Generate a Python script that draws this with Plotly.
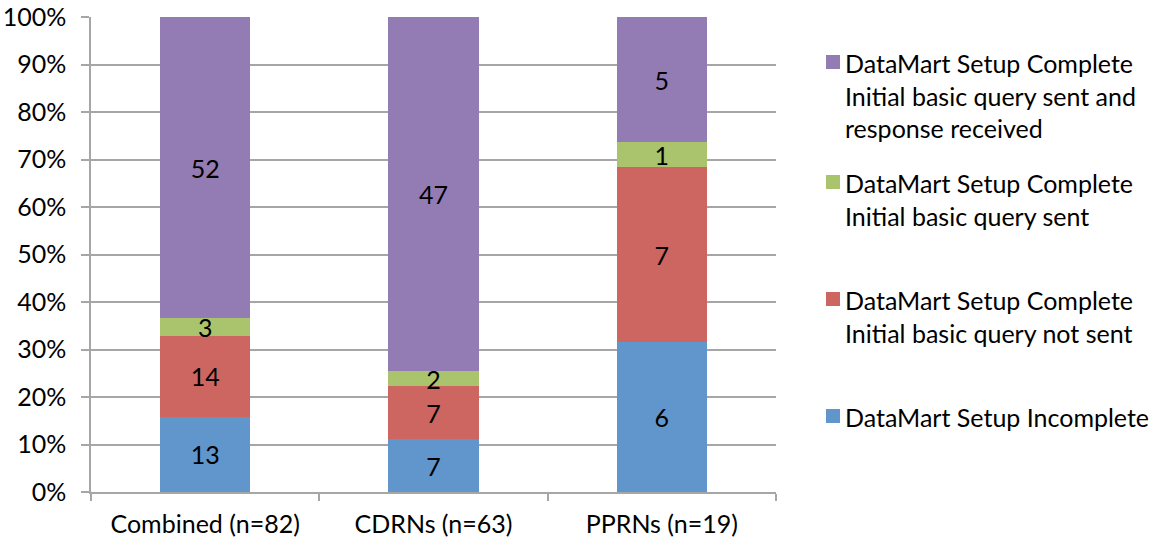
import plotly.graph_objects as go

# Categories and counts per DataMart status
categories = ["Combined (n=82)", "CDRNs (n=63)", "PPRNs (n=19)"]
incomplete = [13, 7, 6]
not_sent = [14, 7, 7]
query_sent = [3, 2, 1]
response_received = [52, 47, 5]

series = [
    ("DataMart Setup Incomplete", incomplete, "#6096CB"),
    ("DataMart Setup Complete<br>Initial basic query not sent", not_sent, "#CD6560"),
    ("DataMart Setup Complete<br>Initial basic query sent", query_sent, "#A9C46C"),
    ("DataMart Setup Complete<br>Initial basic query sent and<br>response received", response_received, "#937CB4"),
]

FONT = "Lato"
FS = 25
W, H = 1150, 541
L, R, T, B = 91, 776, 17, 492  # plot area in pixels

fig = go.Figure()
for name, vals, color in series:
    fig.add_trace(go.Bar(
        x=categories, y=vals, name=name, text=vals,
        texttemplate="%{text}", textposition="inside", insidetextanchor="middle",
        textangle=0, textfont=dict(family=FONT, size=FS, color="black"),
        marker=dict(color=color, line=dict(width=0)),
        showlegend=False, hoverinfo="skip",
    ))


def px_x(px):
    return (px - L) / (R - L)


def px_y(py):
    return (B - py) / (B - T)


# Legend drawn as swatches + labels, top entry first
legend_rows = [63, 183, 300, 417]
for (name, vals, color), yc in zip(reversed(series), legend_rows):
    fig.add_shape(type="rect", xref="paper", yref="paper",
                  x0=px_x(826), x1=px_x(840), y0=px_y(yc + 6), y1=px_y(yc - 8),
                  fillcolor=color, line=dict(width=0))
    fig.add_annotation(xref="paper", yref="paper", x=px_x(843), y=px_y(yc - 17),
                       xanchor="left", yanchor="top", align="left", showarrow=False,
                       text=name, font=dict(family=FONT, size=FS, color="black"))

fig.update_layout(
    barmode="stack", barnorm="percent", bargap=0.605,
    width=W, height=H,
    margin=dict(l=L, r=W - R, t=T, b=H - B, pad=0),
    plot_bgcolor="white", paper_bgcolor="white",
    font=dict(family=FONT, size=FS, color="black"),
    uniformtext=dict(minsize=FS, mode="show"),
)
fig.update_yaxes(
    range=[0, 100], dtick=10, ticksuffix="%", automargin=False,
    showgrid=True, gridcolor="#A6A6A6", gridwidth=1.5,
    showline=True, linecolor="#A6A6A6", linewidth=1.5,
    ticks="outside", ticklen=8, tickcolor="#A6A6A6", tickwidth=1.5,
    ticklabelstandoff=10, zeroline=False,
    tickfont=dict(family=FONT, size=FS),
)
fig.update_xaxes(
    showline=True, linecolor="#A6A6A6", linewidth=1.5, automargin=False,
    ticks="outside", ticklen=7, tickcolor="#A6A6A6", tickwidth=1.5,
    tickson="boundaries", showgrid=False, ticklabelstandoff=9,
    tickfont=dict(family=FONT, size=FS),
)

fig.write_html("out.html")
